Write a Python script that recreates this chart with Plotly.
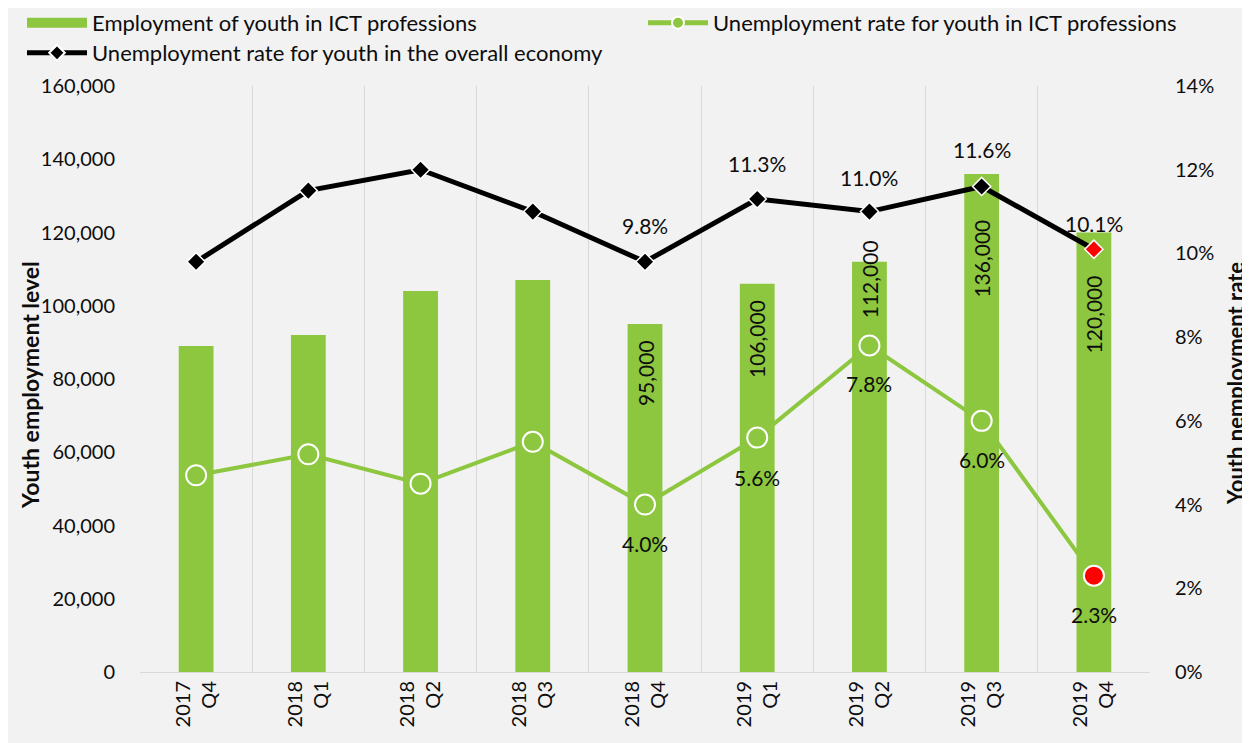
import plotly.graph_objects as go

years = ["2017", "2018", "2018", "2018", "2018", "2019", "2019", "2019", "2019"]
quarters = ["Q4", "Q1", "Q2", "Q3", "Q4", "Q1", "Q2", "Q3", "Q4"]
employment = [89000, 92000, 104000, 107000, 95000, 106000, 112000, 136000, 120000]
ict_unemp = [4.7, 5.2, 4.5, 5.5, 4.0, 5.6, 7.8, 6.0, 2.3]
overall_unemp = [9.8, 11.5, 12.0, 11.0, 9.8, 11.3, 11.0, 11.6, 10.1]
label_from = 4  # data labels shown from 2018 Q4 onwards

cats = [f"{y}<br>{q}" for y, q in zip(years, quarters)]

GREEN = "#8DC63F"
BG = "#F2F2F2"
FONT = "Lato"
TXT = "#0D0D0D"

n = len(cats)
ict_colors = [GREEN] * (n - 1) + ["#FF0000"]
ovr_colors = ["#000000"] * (n - 1) + ["#FF0000"]

fig = go.Figure()

fig.add_trace(go.Bar(
    x=cats, y=employment, width=0.31, marker=dict(color=GREEN, line=dict(width=0)),
    name="Employment of youth in ICT professions", showlegend=False, yaxis="y",
))
# legend swatch for bars (wide rectangle like the original)
fig.add_trace(go.Scatter(
    x=[None], y=[None], mode="lines", line=dict(color=GREEN, width=14),
    name="Employment of youth in ICT professions", legend="legend", yaxis="y",
))
fig.add_trace(go.Scatter(
    x=cats, y=ict_unemp, mode="lines+markers", yaxis="y2",
    line=dict(color=GREEN, width=4),
    marker=dict(symbol="circle", size=20, color=ict_colors, line=dict(color="white", width=2)),
    name="Unemployment rate for youth in ICT professions", legend="legend2",
))
fig.add_trace(go.Scatter(
    x=cats, y=overall_unemp, mode="lines+markers", yaxis="y2",
    line=dict(color="#000000", width=5),
    marker=dict(symbol="diamond", size=14, color=ovr_colors, line=dict(color="white", width=1.5)),
    name="Unemployment rate for youth in the overall economy", legend="legend3",
))

annotations = []
bar_shift = [-49, -55, -17, -85, -82]
ovr_shift = [36, 36, 34, 37, 26]
ict_shift = [-39, -40, -38, -39, -39]
LBL = 21
for k, i in enumerate(range(label_from, n)):
    annotations.append(dict(
        x=cats[i], y=employment[i], xref="x", yref="y", text=f"{employment[i]:,}",
        textangle=-90, showarrow=False, yshift=bar_shift[k],
        font=dict(family=FONT, size=LBL, color=TXT),
    ))
    annotations.append(dict(
        x=cats[i], y=overall_unemp[i], xref="x", yref="y2", text=f"{overall_unemp[i]:.1f}%",
        showarrow=False, yshift=ovr_shift[k],
        font=dict(family=FONT, size=LBL, color=TXT),
    ))
    annotations.append(dict(
        x=cats[i], y=ict_unemp[i], xref="x", yref="y2", text=f"{ict_unemp[i]:.1f}%",
        showarrow=False, yshift=ict_shift[k],
        font=dict(family=FONT, size=LBL, color=TXT),
    ))

# axis titles
annotations.append(dict(
    x=0, y=0.5, xref="paper", yref="paper", xshift=-110, yshift=-6, textangle=-90,
    xanchor="center", yanchor="middle",
    text="<b>Youth employment level</b>", showarrow=False,
    font=dict(family=FONT, size=23, color=TXT),
))
annotations.append(dict(
    x=1, y=0.5, xref="paper", yref="paper", xshift=85, yshift=-5, textangle=-90,
    xanchor="center", yanchor="middle",
    text="<b>Youth nemployment rate</b>", showarrow=False,
    font=dict(family=FONT, size=22, color=TXT),
))

legend_common = dict(
    xanchor="left", yanchor="top", orientation="v",
    bgcolor="rgba(0,0,0,0)", font=dict(family=FONT, size=22, color=TXT),
    itemwidth=60,
)

fig.update_layout(
    width=1250, height=743,
    margin=dict(l=132, r=108, t=78, b=79, autoexpand=False),
    paper_bgcolor=BG, plot_bgcolor=BG,
    font=dict(family=FONT, size=20, color=TXT),
    xaxis=dict(
        type="category", tickangle=-90, tickson="boundaries",
        showgrid=True, gridcolor="#D9D9D9", gridwidth=1,
        showline=True, linecolor="#D9D9D9", linewidth=1,
        ticks="", tickfont=dict(family=FONT, size=20, color=TXT),
        range=[-0.5, n - 0.5], fixedrange=True,
    ),
    yaxis=dict(
        range=[0, 160000], tickvals=list(range(0, 160001, 20000)), tickformat=",d",
        showgrid=False, zeroline=False, showline=False, ticks="",
        ticklabelstandoff=24,
        tickfont=dict(family=FONT, size=20, color=TXT),
    ),
    yaxis2=dict(
        range=[0, 14], dtick=2, ticksuffix="%", overlaying="y", side="right",
        showgrid=False, zeroline=False, showline=False, ticks="",
        ticklabelstandoff=24,
        tickfont=dict(family=FONT, size=20, color=TXT),
    ),
    legend=dict(x=(22 - 140) / 1010, y=1 + 84 / 586, **legend_common),
    legend2=dict(x=(643 - 140) / 1010, y=1 + 84 / 586, itemsizing="constant", **legend_common),
    legend3=dict(x=(22 - 140) / 1010, y=1 + 54 / 586, itemsizing="constant", **legend_common),
    annotations=annotations,
)

fig.write_html("out.html")
